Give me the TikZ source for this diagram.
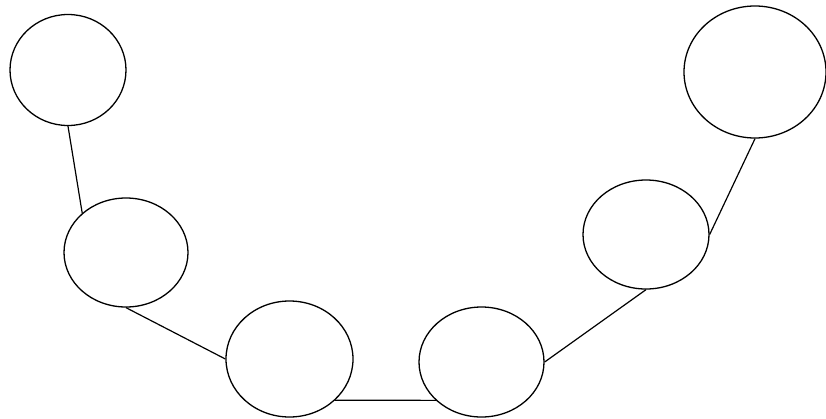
\documentclass[tikz,border=0pt]{standalone}
\usetikzlibrary{shapes.geometric}
\begin{document}
\begin{tikzpicture}[x=1pt,y=-1pt,
  blob/.style={draw,ellipse,line width=1.3pt,inner sep=0pt,fill=white},
  link/.style={draw,line width=1.2pt}]
\useasboundingbox[fill=white] (0,0) rectangle (826,418);
\node[blob,minimum width=116,minimum height=111] (e1) at (68,70) {};
\node[blob,minimum width=124,minimum height=109] (e2) at (126,252.5) {};
\node[blob,minimum width=127,minimum height=116] (e3) at (289.5,359) {};
\node[blob,minimum width=125,minimum height=110] (e4) at (481.5,362) {};
\node[blob,minimum width=126,minimum height=109] (e5) at (646,234.5) {};
\node[blob,minimum width=142,minimum height=132] (e6) at (755,72) {};
\draw[link] (e1.south) -- (e2.138);
\draw[link] (e2.south) -- (e3.west);
\draw[link] (e3.-42) -- (e4.220.5);
\draw[link] (e4.east) -- (e5.south);
\draw[link] (e5.east) -- (e6.south);
\end{tikzpicture}
\end{document}
